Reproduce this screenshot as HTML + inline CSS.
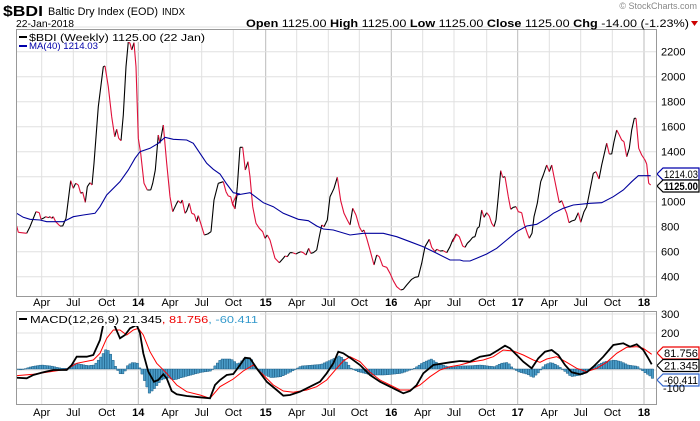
<!DOCTYPE html>
<html><head><meta charset="utf-8"><style>
html,body{margin:0;padding:0;background:#fff;width:700px;height:421px;overflow:hidden;font-family:"Liberation Sans",sans-serif}
svg text{font-family:"Liberation Sans",sans-serif}
</style></head><body>
<svg id="s" width="700" height="421" xmlns="http://www.w3.org/2000/svg">
<defs>
<clipPath id="cm"><rect x="17" y="30" width="640" height="267"/></clipPath>
<clipPath id="cd"><rect x="17" y="312" width="640" height="92"/></clipPath>
</defs>
<g id="grid"></g>
<g id="hist" clip-path="url(#cd)"></g>
<g id="lines"></g>
<rect x="16.5" y="29.5" width="640" height="267" fill="none" stroke="#999"/>
<rect x="16.5" y="311.5" width="640" height="93" fill="none" stroke="#999"/>
<text x="3" y="16" font-size="15" font-weight="bold" textLength="40" lengthAdjust="spacingAndGlyphs">$BDI</text>
<text x="48" y="15" font-size="11" textLength="110" lengthAdjust="spacingAndGlyphs">Baltic Dry Index (EOD)</text>
<text x="162" y="15" font-size="10" textLength="23" lengthAdjust="spacingAndGlyphs">INDX</text>
<text x="16" y="27" font-size="10.5" textLength="58" lengthAdjust="spacingAndGlyphs">22-Jan-2018</text>
<text x="246" y="27" font-size="11" textLength="443" lengthAdjust="spacingAndGlyphs"><tspan font-weight="bold">Open</tspan> 1125.00 <tspan font-weight="bold">High</tspan> 1125.00 <tspan font-weight="bold">Low</tspan> 1125.00 <tspan font-weight="bold">Close</tspan> 1125.00 <tspan font-weight="bold">Chg</tspan> -14.00 (-1.23%)</text>
<polygon points="691,21 698,21 694.5,26" fill="#c00"/>
<text x="697" y="9" font-size="9" fill="#888" text-anchor="end">© StockCharts.com</text>
<g id="leg">
<rect x="17" y="31" width="190" height="11" fill="#fff"/>
<rect x="19" y="36" width="8" height="2" fill="#000"/>
<text x="29" y="41" font-size="10" font-family="Liberation Mono" textLength="176" lengthAdjust="spacingAndGlyphs">$BDI (Weekly) 1125.00 (22 Jan)</text>
<rect x="19" y="45" width="8" height="2" fill="#00a"/>
<text x="29" y="49" font-size="9" fill="#00a" textLength="69" lengthAdjust="spacingAndGlyphs">MA(40) 1214.03</text>
</g>
<g id="mleg"></g>
<g id="ax" font-size="11"></g>
</svg>
<script>
var S=document.getElementById('s'),NS='http://www.w3.org/2000/svg';
function el(p,t,a,txt){var e=document.createElementNS(NS,t);for(var k in a)e.setAttribute(k,a[k]);if(txt!=null)e.textContent=txt;document.getElementById(p).appendChild(e);return e;}
var qx=[41.7,73.3,106.7,138.3,170,201.7,233.3,265.7,296.7,328.3,359.3,391.3,422.7,454,486.7,517.7,549.3,580.7,612.3,644];
var ql=['Apr','Jul','Oct','14','Apr','Jul','Oct','15','Apr','Jul','Oct','16','Apr','Jul','Oct','17','Apr','Jul','Oct','18'];
qx.forEach(function(x,i){var yr=ql[i].length==2;
 el('grid','line',{x1:x,x2:x,y1:30,y2:297,stroke:yr?'#bbb':'#e0e0e0'});
 el('grid','line',{x1:x,x2:x,y1:312,y2:404,stroke:yr?'#bbb':'#e0e0e0'});
 el('ax','text',{x:x,y:306,'text-anchor':'middle','font-weight':yr?'bold':'normal'},ql[i]);
 el('ax','text',{x:x,y:416,'text-anchor':'middle','font-weight':yr?'bold':'normal'},ql[i]);
});
for(var v=400;v<=2200;v+=200){var y=276.7-(v-400)*0.125;el('grid','line',{x1:17,x2:657,y1:y,y2:y,stroke:'#e0e0e0'});
 if(v!=1200)el('ax','text',{x:661,y:y+4},v);}
el('grid','line',{x1:17,x2:657,y1:52-25,y2:52-25,stroke:'#e0e0e0'});
[[300,314],[200,333],[100,351.5],[0,370],[-100,388.5]].forEach(function(a){el('grid','line',{x1:17,x2:657,y1:a[1],y2:a[1],stroke:'#e0e0e0'});
 if(a[0]>=200)el('ax','text',{x:661,y:a[1]+4},a[0]);});
el('ax','text',{x:663,y:392},'-100');
function conv(arr,ox,oy){var r=[];for(var i=0;i<arr.length;i+=2)r.push([ox+arr[i]/3,oy+arr[i+1]/3]);return r;}
var P=[].concat(
conv([20,588,25,607,50,610,60,590,78,545,88,548,93,568,100,565,107,560,115,563,120,560,125,565,130,560,137,575,150,588,158,588,168,565,182,452,190,475,197,460,205,465,212,490,218,487,226,517,232,470,240,458,246,465,252,400,265,230,280,110,285,108,295,170,305,260,314,320,320,298,326,325,333,332,340,255,348,110,355,35,360,40,365,60,372,38,378,110,385,325,392,370,402,460,412,480,422,480,428,460,436,420,445,315,450,340,460,285,470,400,480,500,488,545,500,520,505,512,512,520,517,510,525,550,530,543,538,520,545,550,553,553,560,575,565,557,572,580,583,615,593,612,603,605,612,510,625,460,640,455,648,485,655,498,662,500,668,525,675,535,682,490],10,30),
conv([0,355,8,520,15,537,22,470,30,352,38,352,46,420,54,395,60,440,68,530,78,580,88,595,98,605,105,625,112,615,120,630,128,660,135,685,148,698,160,685,165,678,172,680,180,668,188,668,198,672,205,668,212,665,220,668,228,675,236,655,242,670,250,668,260,660,268,620,275,585,282,590,292,570,300,500,305,490,312,475,322,442,332,512,342,550,352,570,360,585,368,535,378,555,388,590,396,605,402,600,410,625,420,660,432,705,440,675,448,680,458,708,470,712,480,730,490,752,500,770,512,780,520,778,530,765,545,748,555,742,565,740,575,700,585,650,598,628,605,652,615,665,620,658,630,663,640,662,650,668,660,650,668,630,680,612],230,30),
conv([0,655,8,635,18,612,28,620,38,648,45,652,52,640,60,632,68,622,75,620,82,595,88,590,95,540,102,562,110,548,118,558,125,580,132,590,138,570,145,500,152,422,158,442,165,440,175,500,182,538,190,532,198,530,205,545,215,548,222,580,232,610,238,625,246,610,252,560,262,520,272,455,280,435,290,405,298,425,305,405,312,440,320,480,328,518,335,512,342,530,350,550,357,578,365,573,375,570,385,548,392,577,402,545,410,530,420,480,430,430,438,425,447,447,455,405,462,375,470,340,478,372,485,372,492,335,500,300,508,315,515,330,522,335,530,380,538,355,545,300,553,265,558,265,566,355,575,375,585,390,590,402,596,460,602,465],450,30));
P=P.filter(function(p,i){return !(i>0&&p[0]<=P[i-1][0]-0.01);});
var d1='',d2='';
for(var i=1;i<P.length;i++){var s='M'+P[i-1][0].toFixed(1)+' '+P[i-1][1].toFixed(1)+'L'+P[i][0].toFixed(1)+' '+P[i][1].toFixed(1);
 if(P[i][1]<=P[i-1][1])d1+=s;else d2+=s;}
function pl(pts){return pts.map(function(p){return p[0].toFixed(1)+','+p[1].toFixed(1)}).join(' ');}
var MA=[].concat(conv([20,550,40,562,60,568,90,570,110,575,160,575,190,560,220,555,255,550,270,530,290,495,330,455,355,420,375,385,390,365,420,355,445,340,465,322,490,328,530,330,550,340,570,370,590,400,610,418,630,432,650,462,670,488,690,492],10,30),
conv([20,495,60,488,100,518,130,530,160,550,205,568,235,572,260,588,280,597,310,600,360,615,400,610,460,610,500,620,540,635,580,650,620,670,660,690,690,690],230,30),
conv([40,693,60,693,80,685,110,672,140,655,170,630,200,605,230,588,260,583,290,565,310,550,340,535,370,525,420,520,455,518,490,500,520,480,545,455,565,437,585,437,602,437],450,30));
el('lines','path',{d:d1,stroke:'#000',fill:'none','stroke-width':1.1,'clip-path':'url(#cm)'});
el('lines','path',{d:d2,stroke:'#e0103a',fill:'none','stroke-width':1.1,'clip-path':'url(#cm)'});
el('lines','polyline',{points:pl(MA),stroke:'#00009c',fill:'none','stroke-width':1.1,'clip-path':'url(#cm)'});
var H=[].concat(conv([50,252,60,255,90,245,120,240,150,243,180,250,200,250,220,235,240,238,260,242,280,240,300,215,315,192,325,200,335,225,345,250,360,270,370,262,380,240,395,232,410,235,420,260,435,300,445,325,460,310,480,285,500,278,520,285,540,278,570,270,600,262,630,258,645,238,660,222,690,222,710,238,730,220,750,222,760,245,780,265,810,278,840,275,870,260,900,243,960,238,1000,220,1015,212,1030,225],0,285),
conv([0,250,20,260,60,270,100,270,150,265,190,250,215,233,240,222,260,235,280,242,300,247,330,243,360,242,390,240,410,243,430,245,450,235,470,232,480,245,500,260,530,268,545,278,560,265,580,240,600,232,620,242,640,258,660,275,690,270,710,260,730,245,760,230,790,225,810,230,830,240,850,243,855,243,860,245,880,262,900,275,907,285],350,285));
function interp(A,x){for(var i=1;i<A.length;i++)if(x<=A[i][0]){var t=(x-A[i-1][0])/(A[i][0]-A[i-1][0]);return A[i-1][1]+t*(A[i][1]-A[i-1][1]);}return A[A.length-1][1];}
var hd='';for(var x=17;x<=652;x+=2.43){var y=interp(H,x);var t=Math.min(y,369),h=Math.abs(y-369);if(h<0.5)h=0.5;hd+='M'+x.toFixed(1)+' '+t.toFixed(1)+'h2.43v'+h.toFixed(1)+'h-2.43z';}
el('hist','path',{d:hd,fill:'#4a9cc8',stroke:'#1f5f86','stroke-width':0.5});
var MB=[].concat(conv([50,278,80,280,100,270,130,262,160,255,200,255,215,240,230,215,260,215,280,210,300,165,310,118,330,90,345,125,360,160,375,150,390,130,410,120,420,145,430,205,445,260,462,290,475,285,490,268,500,280,515,318,530,328,560,333,600,337,630,340,645,300,660,285,680,270,700,267,720,240,735,218,750,220,770,250,800,290,830,315,850,332,870,330,900,320,930,305,960,290,980,265,1000,235,1015,200,1030,205],0,285),
conv([0,218,30,240,60,270,90,290,120,305,160,325,180,318,200,300,220,265,250,240,300,232,330,228,360,230,390,215,420,210,445,195,465,182,480,190,500,210,520,230,545,250,565,220,585,200,605,195,625,210,645,240,665,262,690,268,710,262,730,245,760,215,790,180,820,175,840,185,860,178,880,195,895,220,905,238],350,285));
var MR=[].concat(conv([50,272,100,268,150,260,200,253,230,235,280,225,300,205,320,160,340,135,360,135,380,150,400,135,415,130,430,150,450,200,470,235,500,265,530,300,560,320,600,330,630,340,660,305,700,282,730,258,760,240,790,270,820,300,850,318,880,322,920,315,950,305,980,285,1010,250,1030,228],0,285),
conv([0,215,30,230,60,262,90,285,120,300,150,315,180,315,210,300,240,275,270,255,300,245,330,240,360,232,400,225,430,215,460,195,490,198,520,210,550,225,570,232,590,222,620,215,650,232,680,250,710,260,740,250,770,232,800,205,830,187,860,185,880,190,905,208],350,285));
el('lines','polyline',{points:pl(MR),stroke:'#f00',fill:'none','stroke-width':1,'clip-path':'url(#cd)'});
el('lines','polyline',{points:pl(MB),stroke:'#000',fill:'none','stroke-width':1.8,'clip-path':'url(#cd)'});
el('mleg','rect',{x:17,y:313,width:243,height:13,fill:'#fff'});
el('mleg','rect',{x:19,y:318,width:8,height:2,fill:'#000'});
var mt=el('mleg','text',{x:30,y:323,'font-size':10,'font-family':'Liberation Mono',textLength:228,lengthAdjust:'spacingAndGlyphs'});
mt.innerHTML='MACD(12,26,9) 21.345<tspan fill="#e00">, 81.756</tspan><tspan fill="#39c">, -60.411</tspan>';
function tag(y,txt,col,bold){el('lines','path',{d:'M657 '+y+'l6 -6h36v12h-36z',fill:'#fff',stroke:col,'stroke-width':1.2});
 el('lines','text',{x:664,y:y+4,'font-size':11,fill:'#000','font-weight':bold?'bold':'normal',textLength:34,lengthAdjust:'spacingAndGlyphs'},txt);}
tag(174,'1214.03','#00a');tag(186,'1125.00','#000',true);
tag(353,'81.756','#e00');tag(365.5,'21.345','#000');tag(380,'-60.411','#36c');
</script>
</body></html>
